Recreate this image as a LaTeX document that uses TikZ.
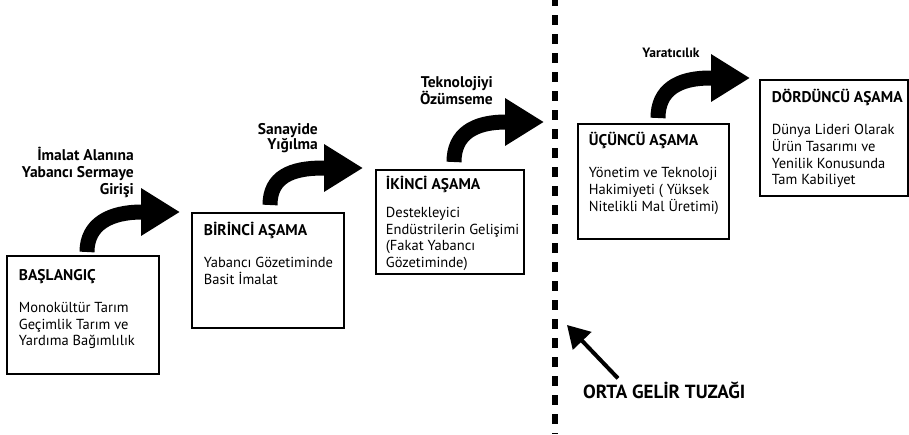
\documentclass[tikz,border=0pt]{standalone}
\usepackage{fontspec}
\setmainfont{PT Sans}
\usetikzlibrary{arrows.meta,positioning,calc}

% box content: width, height, first baseline, gap, title, body
\newcommand{\asama}[6]{\parbox[c][#2][t]{#1}{\rule{0pt}{#3}\fontsize{15.5}{17}\selectfont\bfseries\makebox[0pt][l]{#5}\par
	\vspace{#4}\fontsize{14.5}{16.6}\selectfont\mdseries\makebox[0pt][l]{\begin{tabular}[t]{@{}l@{}}#6\end{tabular}}}}

\tikzset{
	stage/.style={draw,line width=1.8pt,inner xsep=12pt,inner ysep=0pt,anchor=north west},
	bigarrow/.style={line width=15pt,-{Triangle[length=39pt,width=45pt]}},
	steplabel/.style={font=\bfseries\fontsize{15.5}{17}\selectfont,align=right,inner sep=0pt},
}

\begin{document}
\begin{tikzpicture}[x=1pt,y=1pt]
		\useasboundingbox (0,0) rectangle (909,-434);
		% stages
		\node[stage] (b1) at (6,-255) {\asama{128pt}{118pt}{25pt}{15pt}{BAŞLANGIÇ}{Monokültür Tarım\\Geçimlik Tarım ve\\Yardıma Bağımlılık}};
		\node[stage] (b2) at (191,-212) {\asama{128pt}{115pt}{23pt}{15pt}{BİRİNCİ AŞAMA}{Yabancı Gözetiminde\\Basit İmalat}};
		\node[stage,inner xsep=10pt] (b3) at (375,-169) {\asama{128pt}{104pt}{20pt}{11pt}{İKİNCİ AŞAMA}{Destekleyici\\Endüstrilerin Gelişimi\\(Fakat Yabancı\\Gözetiminde)}};
		\node[stage,inner xsep=11pt] (b4) at (577,-123) {\asama{129pt}{115pt}{22pt}{15pt}{ÜÇÜNCÜ AŞAMA}{Yönetim ve Teknoloji\\Hakimiyeti ( Yüksek\\Nitelikli Mal Üretimi)}};
		\node[stage] (b5) at (759,-79) {\asama{124pt}{116pt}{23pt}{15pt}{DÖRDÜNCÜ AŞAMA}{Dünya Lideri Olarak\\Ürün Tasarımı ve\\Yenilik Konusunda\\Tam Kabiliyet}};
		% curved arrows
		\draw[bigarrow] ([xshift=81pt,yshift=3pt]b1.north west) .. controls +(0,28) and +(-32,0) .. ([xshift=-49pt]b2.north west) -- ([xshift=-11pt]b2.north west);
		\draw[bigarrow] ([xshift=79pt,yshift=7pt]b2.north west) .. controls +(0,28) and +(-32,0) .. ([xshift=-52pt,yshift=1pt]b3.north west) -- ([xshift=-12pt,yshift=1pt]b3.north west);
		\draw[bigarrow] ([xshift=79pt,yshift=7pt]b3.north west) .. controls +(0,28) and +(-32,0) .. ([xshift=-71pt,yshift=1pt]b4.north west) -- ([xshift=-33pt,yshift=1pt]b4.north west);
		\draw[bigarrow] ([xshift=81pt,yshift=5pt]b4.north west) .. controls +(0,28) and +(-32,0) .. ([xshift=-49pt,yshift=1pt]b5.north west) -- ([xshift=-9pt,yshift=1pt]b5.north west);
		% arrow labels
		\node[steplabel,anchor=north east] (l1) at (134,-147) {İmalat Alanına\\Yabancı Sermaye\\Girişi};
		\node[steplabel,anchor=north east,font=\bfseries\fontsize{15.5}{15.5}\selectfont] (l2) at (318,-123) {Sanayide\\Yığılma};
		\node[steplabel,anchor=north east] (l3) at (493,-76) {Teknolojiyi\\Özümseme};
		\node[steplabel,font=\bfseries\fontsize{13.5}{15}\selectfont] (l4) at (671,-53) {Yaratıcılık};
		% middle income trap
		\coordinate (lineTop) at (555,0);
		\coordinate (lineBot) at (555,-434);
		\draw[line width=6pt,dash pattern=on 10pt off 9pt,dash phase=4pt] (lineTop) -- (lineBot);
		\node[anchor=west,inner sep=0pt,font=\bfseries\fontsize{19}{22}\selectfont] (trap) at (583,-390) {ORTA GELİR TUZAĞI};
		\coordinate (trapTip) at (567,-325);
		\draw[line width=4pt,-{Triangle[length=22pt,width=25pt]}] ([xshift=35pt,yshift=3pt]trap.north west) -- (trapTip);
	\end{tikzpicture}
\end{document}
